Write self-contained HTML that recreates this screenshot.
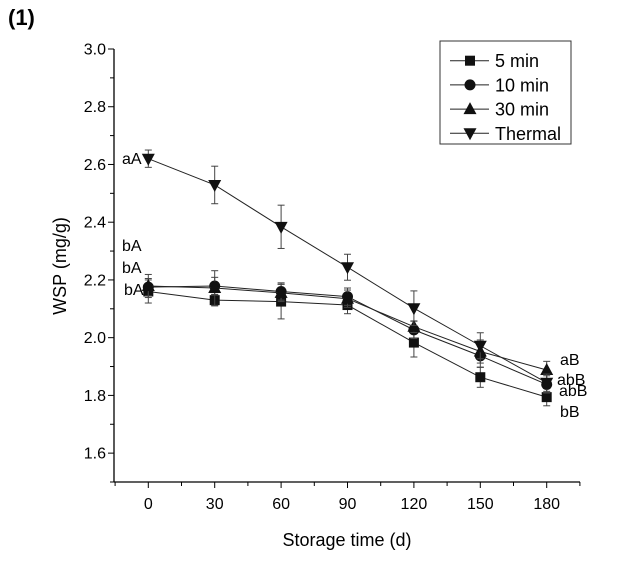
<!DOCTYPE html>
<html><head><meta charset="utf-8"><style>
body{margin:0;background:#fff}
svg{display:block;font-family:"Liberation Sans",Arial,sans-serif}
</style></head><body>
<svg id="c" width="621" height="563" viewBox="0 0 621 563">
<text x="8" y="25" font-size="22" font-weight="bold">(1)</text>
<g id="axes"></g>
<g id="series"></g>
<g id="legend"></g>
</svg>
<script>
const days=[0,30,60,90,120,150,180];
const s5=[2.16,2.13,2.125,2.113,1.983,1.863,1.794];
const s10=[2.175,2.179,2.16,2.142,2.027,1.937,1.838];
const s30=[2.179,2.172,2.155,2.135,2.038,1.952,1.888];
const sTh=[2.62,2.529,2.384,2.244,2.102,1.972,1.844];
const e5=[0.04,0.02,0.06,0.03,0.05,0.035,0.03];
const e10=[0.03,0.03,0.03,0.03,0.03,0.04,0.03];
const e30=[0.04,0.06,0.03,0.03,0.02,0.04,0.03];
const eTh=[0.03,0.065,0.075,0.045,0.06,0.045,0.03];
const yTicks=[1.6,1.8,2.0,2.2,2.4,2.6,2.8,3.0];
const seriesNames=["5 min","10 min","30 min","Thermal"];
const ns="http://www.w3.org/2000/svg";
const X=d=>148.3+d*(398.4/180);
const Y=v=>482-(v-1.5)*(433/1.5);
function mk(tag,attrs,parent){const e=document.createElementNS(ns,tag);for(const k in attrs)e.setAttribute(k,attrs[k]);parent.appendChild(e);return e;}
const ax=document.getElementById('axes');
let l=mk('line',{x1:114,y1:49,x2:114,y2:482,stroke:'#000','stroke-width':1.3},ax);


l=mk('line',{x1:114,y1:482,x2:580,y2:482,stroke:'#000','stroke-width':1.3},ax);


for(let v=1.5;v<=3.0001;v+=0.1){const y=Y(v);const maj=Math.abs(v*5-Math.round(v*5))<0.01;
mk('line',{x1:114-(maj?6:4),y1:y,x2:114,y2:y,stroke:'#000','stroke-width':1},ax);}
yTicks.forEach(v=>{const t=mk('text',{x:106,y:Y(v)+5.5,'font-size':16,'text-anchor':'end'},ax);t.textContent=v.toFixed(1);

});
for(let d=-15;d<=195;d+=15){mk('line',{x1:X(d),y1:482,x2:X(d),y2:482+((d%30===0)?6:4),stroke:'#000','stroke-width':1},ax);}
days.forEach(d=>{const t=mk('text',{x:X(d),y:509,'font-size':16,'text-anchor':'middle'},ax);t.textContent=d;

});
let t=mk('text',{x:347,y:546,'font-size':18,'text-anchor':'middle'},ax);t.textContent='Storage time (d)';


t=mk('text',{x:0,y:0,'font-size':18,'text-anchor':'middle',transform:'translate(66,266) rotate(-90)'},ax);t.textContent='WSP (mg/g)';


const sg=document.getElementById('series');
function marker(type,x,y,g){
 if(type===0)return mk('rect',{x:x-5,y:y-5,width:10,height:10,fill:'#111'},g);
 if(type===1)return mk('circle',{cx:x,cy:y,r:5.5,fill:'#111'},g);
 if(type===2)return mk('polygon',{points:`${x},${y-7} ${x-6.5},${y+5} ${x+6.5},${y+5}`,fill:'#111'},g);
 return mk('polygon',{points:`${x},${y+7} ${x-6.5},${y-5} ${x+6.5},${y-5}`,fill:'#111'},g);
}
const all=[[s5,e5],[s10,e10],[s30,e30],[sTh,eTh]];
all.forEach(([vals,errs],i)=>{
 const g=mk('g',{},sg);
 
 
 mk('polyline',{points:days.map((d,j)=>X(d)+','+Y(vals[j])).join(' '),fill:'none',stroke:'#222','stroke-width':1},g);
 days.forEach((d,j)=>{const x=X(d),y1=Y(vals[j]+errs[j]),y2=Y(vals[j]-errs[j]);
  mk('line',{x1:x,y1:y1,x2:x,y2:y2,stroke:'#444','stroke-width':1},g);
  mk('line',{x1:x-3.5,y1:y1,x2:x+3.5,y2:y1,stroke:'#444','stroke-width':1},g);
  mk('line',{x1:x-3.5,y1:y2,x2:x+3.5,y2:y2,stroke:'#444','stroke-width':1},g);
  const m=marker(i,x,Y(vals[j]),g);
  
  
 });
});
const anns=[["aA",122,164],["bA",122,251],["bA",122,273],["bA",124,295],["aB",560,365],["abB",557,385],["abB",559,396],["bB",560,417]];
anns.forEach(a=>{const tt=mk('text',{x:a[1],y:a[2],'font-size':16},sg);tt.textContent=a[0];

});
const lg=document.getElementById('legend');


mk('rect',{x:440,y:41,width:131,height:103,fill:'#fff',stroke:'#333','stroke-width':1},lg);
seriesNames.forEach((n,i)=>{const y=60.7+i*24.2;const g=mk('g',{},lg);
 
 
 mk('line',{x1:450,y1:y,x2:489,y2:y,stroke:'#222','stroke-width':1},g);
 marker(i,470,y,g);
 const tx=mk('text',{x:495,y:y+6.5,'font-size':18},g);tx.textContent=n;});
</script>
</body></html>
